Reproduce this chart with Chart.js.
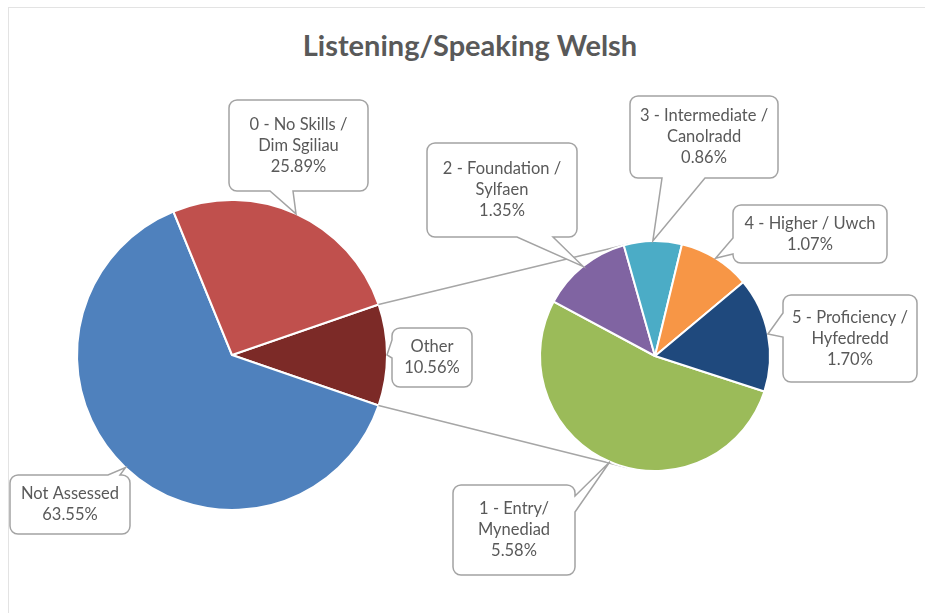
<!DOCTYPE html>
<html>
<head>
    <meta charset="UTF-8">
    <title>Listening/Speaking Welsh</title>
    <script src="https://cdn.jsdelivr.net/npm/chart.js"></script>
    <style>
        body {
            margin: 0;
            background: #fff;
        }
        .wrap {
            position: relative;
            width: 925px;
            height: 613px;
            overflow: hidden;
        }
        .frame {
            position: absolute;
            left: 8px;
            top: 7px;
            width: 940px;
            height: 640px;
            border: 1px solid #e3e3e3;
        }
        .wrap canvas {
            position: absolute;
            left: 0;
            top: 0;
        }
        h1 {
            position: absolute;
            left: 0;
            width: 940px;
            top: 27px;
            margin: 0;
            text-align: center;
            font: bold 29px Lato, sans-serif;
            line-height: 35px;
            color: #595959;
        }
    </style>
</head>
<body>
    <div class="wrap">
        <div class="frame"></div>
        <h1>Listening/Speaking Welsh</h1>
        <canvas id="mainPie" width="925" height="613"></canvas>
        <canvas id="subPie" width="925" height="613"></canvas>
    </div>

    <script>
        // main pie: "Other" is split out into the second pie
        const mainLabels = [['Other'], ['Not Assessed'], ['0 - No Skills /', 'Dim Sgiliau']];
        const mainValues = [10.56, 63.55, 25.89];
        const mainColors = ['#7C2A27', '#4F81BD', '#C0504D'];

        // second pie: breakdown of "Other"
        const subLabels = [['1 - Entry/', 'Mynediad'], ['2 - Foundation /', 'Sylfaen'], ['3 - Intermediate /', 'Canolradd'], ['4 - Higher / Uwch'], ['5 - Proficiency /', 'Hyfedredd']];
        const subValues = [5.58, 1.35, 0.86, 1.07, 1.70];
        const subColors = ['#9BBB59', '#8064A2', '#4BACC6', '#F79646', '#1F497D'];

        // callout boxes: x, y, w, h and which side the pointer leaves from
        const mainBoxes = [
            {x: 392, y: 328, w: 80, h: 59, side: 'left', a: 340, b: 358},
            {x: 10, y: 475, w: 120, h: 59, side: 'top', a: 108, b: 120},
            {x: 229, y: 100, w: 139, h: 91, side: 'bottom', a: 270, b: 293}
        ];
        const subBoxes = [
            {x: 453, y: 485, w: 122, h: 90, side: 'right', a: 496, b: 512},
            {x: 427, y: 143, w: 150, h: 94, side: 'bottom', a: 517, b: 553},
            {x: 630, y: 96, w: 148, h: 82, side: 'bottom', a: 662, b: 705},
            {x: 733, y: 205, w: 154, h: 58, side: 'left', a: 238, b: 254},
            {x: 783, y: 295, w: 134, h: 87, side: 'left', a: 313, b: 337}
        ];

        const total = mainValues.reduce((s, v) => s + v, 0);
        const otherSweep = mainValues[0] / total * 360;

        function drawCallout(ctx, box, tip, lines) {
            const {x, y, w, h, side, a, b} = box;
            const r = 8;
            ctx.beginPath();
            ctx.moveTo(x + r, y);
            if (side === 'top') { ctx.lineTo(a, y); ctx.lineTo(tip.x, tip.y); ctx.lineTo(b, y); }
            ctx.lineTo(x + w - r, y);
            ctx.arcTo(x + w, y, x + w, y + r, r);
            if (side === 'right') { ctx.lineTo(x + w, a); ctx.lineTo(tip.x, tip.y); ctx.lineTo(x + w, b); }
            ctx.lineTo(x + w, y + h - r);
            ctx.arcTo(x + w, y + h, x + w - r, y + h, r);
            if (side === 'bottom') { ctx.lineTo(b, y + h); ctx.lineTo(tip.x, tip.y); ctx.lineTo(a, y + h); }
            ctx.lineTo(x + r, y + h);
            ctx.arcTo(x, y + h, x, y + h - r, r);
            if (side === 'left') { ctx.lineTo(x, b); ctx.lineTo(tip.x, tip.y); ctx.lineTo(x, a); }
            ctx.lineTo(x, y + r);
            ctx.arcTo(x, y, x + r, y, r);
            ctx.closePath();
            ctx.fillStyle = '#fff';
            ctx.fill();
            ctx.strokeStyle = '#a3a3a3';
            ctx.lineWidth = 1.5;
            ctx.stroke();

            ctx.fillStyle = '#595959';
            ctx.font = '16.5px Lato, sans-serif';
            ctx.textAlign = 'center';
            ctx.textBaseline = 'middle';
            const lh = 21;
            const top = y + h / 2 - (lines.length - 1) * lh / 2;
            lines.forEach((t, i) => ctx.fillText(t, x + w / 2, top + i * lh));
        }

        // point on the rim of a slice at its middle angle
        function rimPoint(arc) {
            const mid = (arc.startAngle + arc.endAngle) / 2;
            return {x: arc.x + Math.cos(mid) * arc.outerRadius, y: arc.y + Math.sin(mid) * arc.outerRadius};
        }

        // tangent from point p to circle (c, r); dir -1 upper, +1 lower
        function tangent(p, c, r, dir) {
            const dx = c.x - p.x, dy = c.y - p.y;
            const d = Math.hypot(dx, dy);
            const ang = Math.atan2(dy, dx) + dir * Math.asin(r / d);
            const len = Math.sqrt(d * d - r * r);
            return {x: p.x + Math.cos(ang) * len, y: p.y + Math.sin(ang) * len};
        }

        const mainChart = new Chart(document.getElementById('mainPie'), {
            type: 'pie',
            data: {
                labels: mainLabels,
                datasets: [{
                    data: mainValues,
                    backgroundColor: mainColors,
                    borderColor: '#fff',
                    borderWidth: 2
                }]
            },
            options: {
                responsive: false,
                animation: false,
                rotation: 90 - otherSweep / 2,
                radius: 155,
                layout: { padding: {left: 77, right: 538, top: 200, bottom: 103} },
                plugins: { legend: { display: false }, tooltip: { enabled: false } }
            }
        });

        const seriesLines = {
            id: 'seriesLines',
            beforeDatasetsDraw(chart) {
                const ctx = chart.ctx;
                const other = mainChart.getDatasetMeta(0).data[0];
                const sub = chart.getDatasetMeta(0).data[0];
                const c = {x: sub.x, y: sub.y};
                const p1 = {x: other.x + Math.cos(other.startAngle) * other.outerRadius, y: other.y + Math.sin(other.startAngle) * other.outerRadius};
                const p2 = {x: other.x + Math.cos(other.endAngle) * other.outerRadius, y: other.y + Math.sin(other.endAngle) * other.outerRadius};
                const t1 = tangent(p1, c, sub.outerRadius, -1);
                const t2 = tangent(p2, c, sub.outerRadius, 1);
                ctx.save();
                ctx.strokeStyle = '#a6a6a6';
                ctx.lineWidth = 1.5;
                ctx.beginPath();
                ctx.moveTo(p1.x, p1.y);
                ctx.lineTo(t1.x, t1.y);
                ctx.moveTo(p2.x, p2.y);
                ctx.lineTo(t2.x, t2.y);
                ctx.stroke();
                ctx.restore();
            },
            afterDraw(chart) {
                const ctx = chart.ctx;
                ctx.save();
                mainChart.getDatasetMeta(0).data.forEach((arc, i) => {
                    drawCallout(ctx, mainBoxes[i], rimPoint(arc), [...mainLabels[i], mainValues[i].toFixed(2) + '%']);
                });
                chart.getDatasetMeta(0).data.forEach((arc, i) => {
                    drawCallout(ctx, subBoxes[i], rimPoint(arc), [...subLabels[i], subValues[i].toFixed(2) + '%']);
                });
                ctx.restore();
            }
        };

        new Chart(document.getElementById('subPie'), {
            type: 'pie',
            data: {
                labels: subLabels,
                datasets: [{
                    data: subValues,
                    backgroundColor: subColors,
                    borderColor: '#fff',
                    borderWidth: 2
                }]
            },
            options: {
                responsive: false,
                animation: false,
                rotation: 108,
                radius: 115,
                layout: { padding: {left: 540, right: 155, top: 241, bottom: 142} },
                plugins: { legend: { display: false }, tooltip: { enabled: false } }
            },
            plugins: [seriesLines]
        });
    </script>
</body>
</html>
